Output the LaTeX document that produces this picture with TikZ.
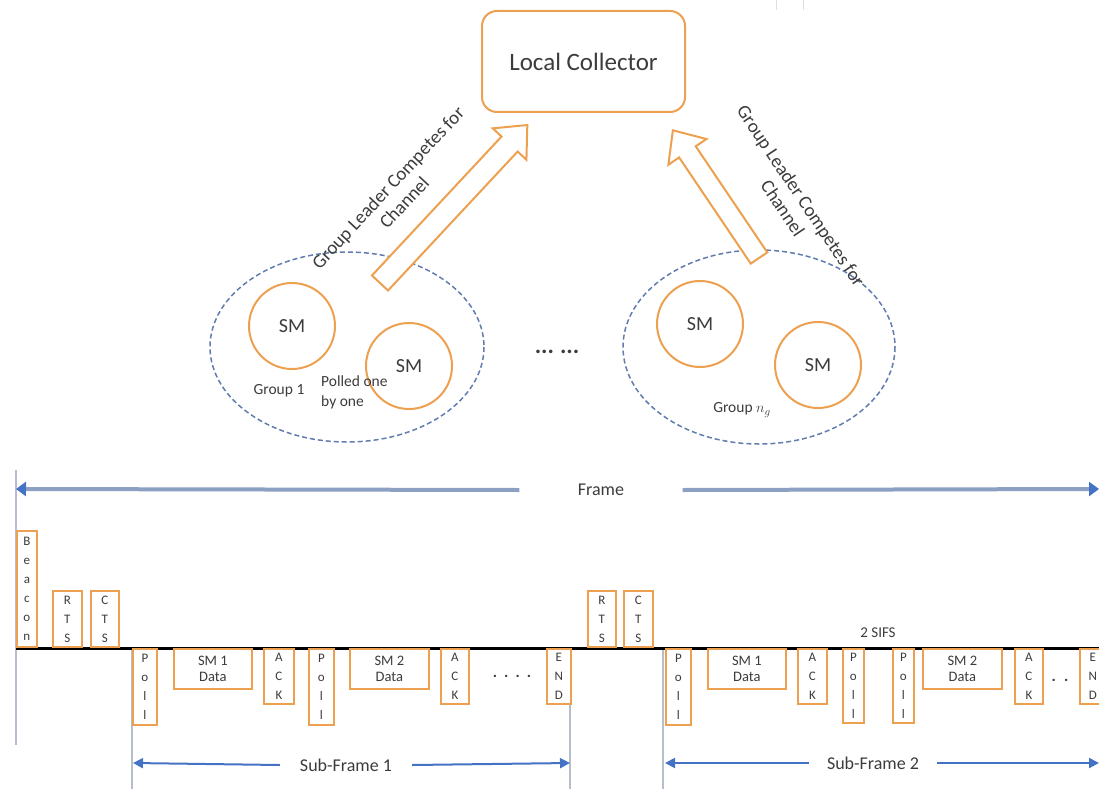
\documentclass[tikz,border=0pt]{standalone}
\usepackage{fontspec}
\setmainfont{Carlito}
\usetikzlibrary{arrows.meta}
\definecolor{orng}{RGB}{237,160,80}
\definecolor{txt}{RGB}{60,60,60}
\definecolor{dashblue}{RGB}{95,125,175}
\definecolor{framebar}{RGB}{140,160,195}
\definecolor{arrblue}{RGB}{68,114,196}
\definecolor{vgray}{RGB}{180,190,205}
\begin{document}
\begin{tikzpicture}[x=1pt,y=-1pt,
  every node/.style={text=txt},
  obox/.style={draw=orng, line width=1.8pt, inner sep=0pt, align=center, fill=white,
    font=\fontsize{13}{19}\selectfont},
  upbox/.style={obox, anchor=south west},
  dnbox/.style={obox, anchor=north west},
  databox/.style={dnbox, minimum height=40pt, font=\fontsize{14.5}{16}\selectfont},
  smnode/.style={circle, draw=orng, line width=2pt, minimum size=86pt, inner sep=0pt,
    font=\fontsize{20}{24}\selectfont},
  group/.style={draw=dashblue, line width=1.5pt, dash pattern=on 5pt off 3pt},
  blockarrow/.style={draw=orng, line width=2pt, fill=white, line join=miter},
  small/.style={font=\fontsize{15.5}{20}\selectfont},
  rot/.style={font=\fontsize{19}{22}\selectfont, align=center, inner sep=0pt},
  vline/.style={draw=vgray, line width=2pt},
  framearrow/.style={draw=framebar, line width=4pt, -{Triangle[length=10pt,width=14pt,fill=arrblue,color=arrblue]}},
  subarrow/.style={draw=arrblue, line width=2pt, -{Triangle[length=10pt,width=10pt]}},
  lbl/.style={font=\fontsize{18}{22}\selectfont}
]
\useasboundingbox (0,0) rectangle (1099,789);
\clip (0,0) rectangle (1099,789);

% faint artifacts top right
\draw[gray!25, line width=1pt] (776,0) -- (776,10);
\draw[gray!25, line width=1pt] (803,0) -- (803,10);

% Local collector
\node[draw=orng, line width=2pt, rounded corners=15pt, minimum width=203pt, minimum height=101pt,
  font=\fontsize{25}{30}\selectfont] (lc) at (583.5,61.5) {Local Collector};

% groups
\draw[group] (347,347) ellipse [x radius=137, y radius=95];
\draw[group] (759,347) ellipse [x radius=136, y radius=97];

\node[smnode] (sm1) at (292,326) {SM};
\node[smnode] (sm2) at (409,366) {SM};
\node[smnode] (sm3) at (700,324) {SM};
\node[smnode] (sm4) at (818,365) {SM};

\node[small] (g1) at (279,391) {Group 1};
\node[small, align=left, anchor=west, inner sep=0pt] (pol) at (321,392) {Polled one\\by one};
\node[small] (gn) at (742,410) {Group $n_g$};
\node[font=\fontsize{24}{24}\selectfont\bfseries] (dots) at (557,352) {...\hspace{6pt}...};

% block arrows
\draw[blockarrow, shift={(380,283)}, rotate=47]
  (0,-11) -- (190,-11) -- (190,-23) -- (216,0) -- (190,23) -- (190,11) -- (0,11) -- cycle;
\draw[blockarrow, shift={(759,258)}, rotate=124]
  (0,-10) -- (128,-10) -- (128,-23) -- (154,0) -- (128,23) -- (128,10) -- (0,10) -- cycle;

\node[rot, rotate=47] (t1) at (396,195) {Group Leader Competes for\\Channel};
\node[rot, rotate=-56] (t2) at (792,202) {Group Leader Competes for\\Channel};

% Frame arrow
\draw[vline] (16,470) -- (16,745);
\node[lbl, minimum width=163pt, inner sep=0pt] (frame) at (601,490) {Frame};
\coordinate (fL) at (16,489);
\coordinate (fR) at (1099,489);
\draw[framearrow] (frame.west) -- (fL);
\draw[framearrow] (frame.east) -- (fR);

% vertical separators
\coordinate (v1a) at (132,648); \coordinate (v1b) at (132,789);
\coordinate (v2a) at (570,648); \coordinate (v2b) at (570,789);
\coordinate (v3a) at (663,648); \coordinate (v3b) at (663,789);
\draw[vline] (v1a) -- (v1b);
\draw[vline] (v2a) -- (v2b);
\draw[vline] (v3a) -- (v3b);

% baseline
\coordinate (b0) at (16,648);
\coordinate (b1) at (1099,648);
\draw[black, line width=3pt] (b0) -- (b1);

% upper boxes
\node[upbox, minimum width=20pt, minimum height=116pt] (beacon) at (16,648) {B\\e\\a\\c\\o\\n};
\node[upbox, minimum width=29pt, minimum height=56pt] (rts1) at (52,648) {R\\T\\S};
\node[upbox, minimum width=28pt, minimum height=56pt] (cts1) at (90,648) {C\\T\\S};
\node[upbox, minimum width=28pt, minimum height=56pt] (rts2) at (587,648) {R\\T\\S};
\node[upbox, minimum width=29pt, minimum height=56pt] (cts2) at (623,648) {C\\T\\S};

% lower boxes, sub-frame 1
\node[dnbox, minimum width=24pt, minimum height=76pt] (poll1) at (132,648) {P\\o\\l\\l};
\node[databox, minimum width=78pt] (data1) at (173,648) {SM 1\\Data};
\node[dnbox, minimum width=30pt, minimum height=55pt] (ack1) at (263,648) {A\\C\\K};
\node[dnbox, minimum width=25pt, minimum height=76pt] (poll2) at (308,648) {P\\o\\l\\l};
\node[databox, minimum width=79pt] (data2) at (349,648) {SM 2\\Data};
\node[dnbox, minimum width=28pt, minimum height=55pt] (ack2) at (440,648) {A\\C\\K};
\node[font=\fontsize{16}{16}\selectfont\bfseries] (dots1) at (512,676) {.\hspace{7pt}.\hspace{7pt}.\hspace{7pt}.};
\node[dnbox, minimum width=24pt, minimum height=55pt] (end1) at (546,648) {E\\N\\D};

% lower boxes, sub-frame 2
\node[dnbox, minimum width=25pt, minimum height=76pt] (poll3) at (665,648) {P\\o\\l\\l};
\node[databox, minimum width=78pt] (data3) at (707,648) {SM 1\\Data};
\node[dnbox, minimum width=29pt, minimum height=55pt] (ack3) at (797,648) {A\\C\\K};
\node[dnbox, minimum width=21pt, minimum height=74pt] (poll4) at (842,648) {P\\o\\l\\l};
\node[dnbox, minimum width=21pt, minimum height=74pt] (poll5) at (892,648) {P\\o\\l\\l};
\node[databox, minimum width=79pt] (data4) at (922,648) {SM 2\\Data};
\node[dnbox, minimum width=28pt, minimum height=55pt] (ack4) at (1014,648) {A\\C\\K};
\node[font=\fontsize{16}{16}\selectfont\bfseries] (dots2) at (1060,680) {.\hspace{8pt}.};
\node[dnbox, minimum width=26pt, minimum height=55pt] (end2) at (1079,648) {E\\N\\D};
\node[font=\fontsize{15}{18}\selectfont] (sifs) at (878,633) {2 SIFS};

% sub-frame arrows
\node[lbl, minimum width=132pt, inner sep=0pt] (sf1) at (346,765) {Sub-Frame 1};
\coordinate (s1L) at (133,763); \coordinate (s1R) at (570,763);
\draw[subarrow] (sf1.west) -- (s1L);
\draw[subarrow] (sf1.east) -- (s1R);
\node[lbl, minimum width=127pt, inner sep=0pt] (sf2) at (873,763) {Sub-Frame 2};
\coordinate (s2L) at (665,763); \coordinate (s2R) at (1099,763);
\draw[subarrow] (sf2.west) -- (s2L);
\draw[subarrow] (sf2.east) -- (s2R);
\end{tikzpicture}
\end{document}
